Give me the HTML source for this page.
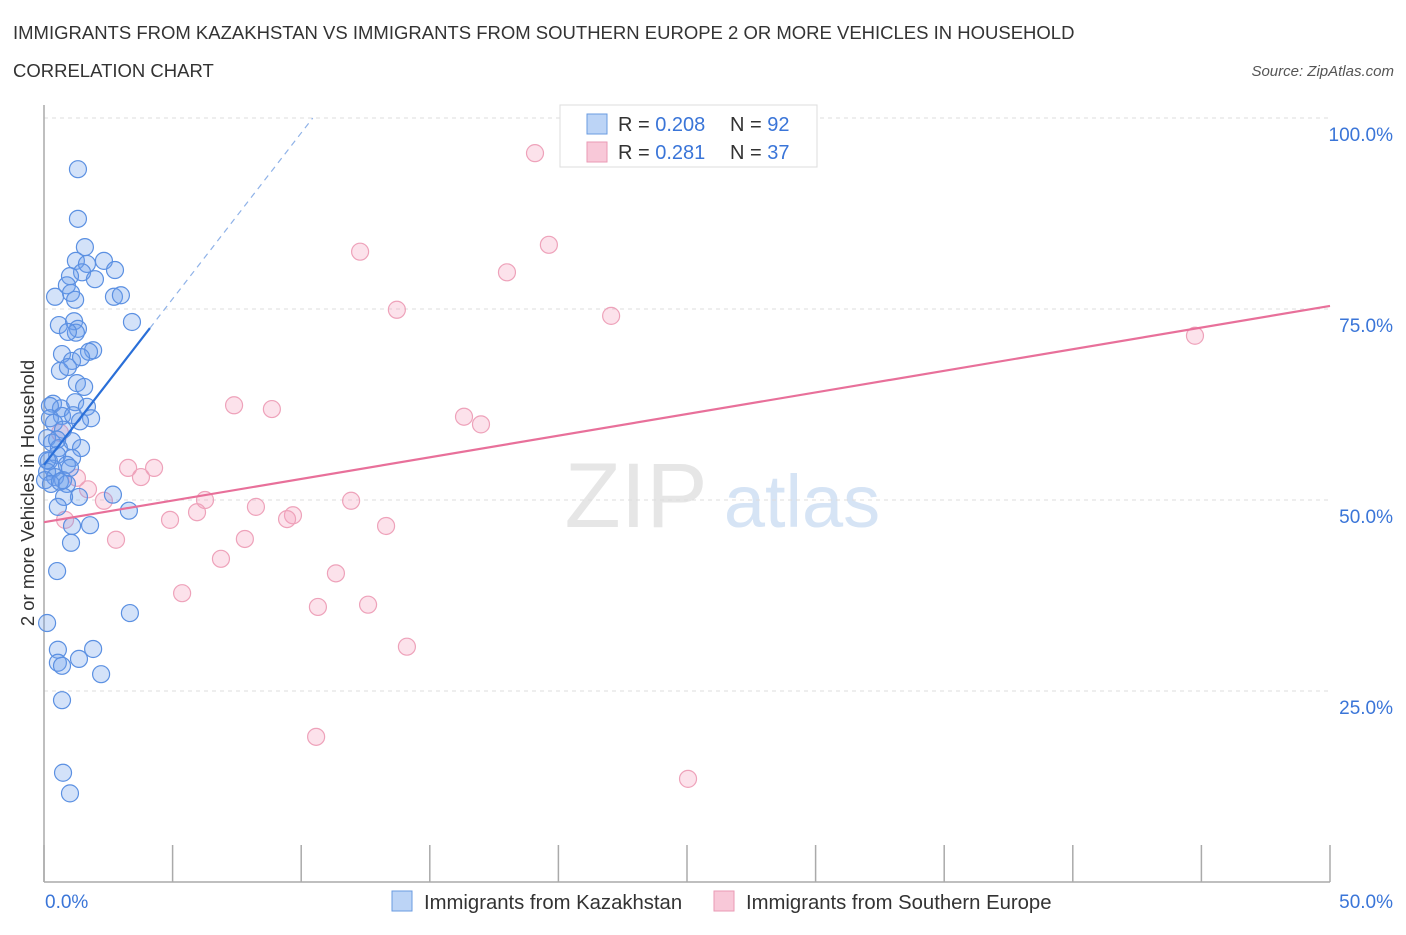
<!DOCTYPE html>
<html><head><meta charset="utf-8"><style>
body{margin:0;background:#fff;font-family:"Liberation Sans",sans-serif;}
svg text{font-family:"Liberation Sans",sans-serif;}
</style></head><body>
<svg id="chart" width="1406" height="930">
<text x="13" y="39" font-size="18.5" fill="#333">IMMIGRANTS FROM KAZAKHSTAN VS IMMIGRANTS FROM SOUTHERN EUROPE 2 OR MORE VEHICLES IN HOUSEHOLD</text>
<text x="13" y="77" font-size="18.5" fill="#333">CORRELATION CHART</text>
<text x="1394" y="76" font-size="15" fill="#555" font-style="italic" text-anchor="end">Source: ZipAtlas.com</text>
<g>
<text x="636" y="527" font-size="92" fill="#e6e6e6" text-anchor="middle" font-family="Liberation Serif">ZIP</text>
<text x="802" y="527" font-size="74" fill="#d6e4f5" text-anchor="middle">atlas</text>
</g>
<g id="grid"></g>
<g id="axes"></g>
<g id="pts"></g>
<g id="lines"></g>
<text transform="translate(34,493) rotate(-90)" font-size="18.5" fill="#333" text-anchor="middle">2 or more Vehicles in Household</text>
<g>
<rect x="560" y="105" width="257" height="62" fill="#fff" stroke="#ddd"/>
<rect x="587" y="114" width="20" height="20" fill="#bcd4f6" stroke="#6a9be0"/>
<rect x="587" y="142" width="20" height="20" fill="#f8c8d8" stroke="#ea9ab4"/>
<text x="618" y="131" font-size="20" fill="#333">R = <tspan fill="#3a75d8">0.208</tspan></text>
<text x="730" y="131" font-size="20" fill="#333">N = <tspan fill="#3a75d8">92</tspan></text>
<text x="618" y="159" font-size="20" fill="#333">R =  <tspan fill="#3a75d8">0.281</tspan></text>
<text x="730" y="159" font-size="20" fill="#333">N = <tspan fill="#3a75d8">37</tspan></text>
</g>
<g>
<rect x="392" y="891" width="20" height="20" fill="#bcd4f6" stroke="#6a9be0"/>
<text x="424" y="909" font-size="20.3" fill="#333">Immigrants from Kazakhstan</text>
<rect x="714" y="891" width="20" height="20" fill="#f8c8d8" stroke="#ea9ab4"/>
<text x="746" y="909" font-size="20.3" fill="#333">Immigrants from Southern Europe</text>
</g>
</svg>
<script>
const blueX=[1.32,1.32,1.59,1.24,1.67,2.33,2.76,1.48,1.01,1.98,0.89,1.05,0.43,1.21,2.72,2.99,3.42,0.58,1.17,1.32,1.24,0.93,1.91,1.75,0.70,1.09,0.62,0.93,1.44,1.28,1.56,0.35,0.66,0.23,1.21,1.67,0.70,1.13,1.83,1.40,0.23,0.39,0.74,0.12,0.31,1.09,0.58,1.44,1.09,0.51,0.19,0.89,0.35,0.12,0.43,0.74,1.01,0.04,0.27,0.62,2.68,0.89,1.36,0.78,0.54,3.30,1.79,1.09,1.05,0.51,3.34,0.12,0.54,1.91,0.54,0.70,1.36,2.22,0.70,0.74,1.01,0.12,0.51];
const blueY=[93.3,86.8,83.1,81.3,80.9,81.3,80.1,79.8,79.3,78.9,78.1,77.1,76.6,76.2,76.6,76.8,73.3,72.9,73.4,72.4,71.9,72.0,69.6,69.4,69.1,68.2,66.9,67.4,68.7,65.3,64.8,62.6,62.0,62.3,62.8,62.2,61.0,61.1,60.7,60.3,60.7,60.1,59.2,58.1,57.5,57.7,56.8,56.8,55.5,55.9,55.1,54.6,54.1,53.7,53.0,52.6,54.2,52.6,52.1,52.4,50.7,52.1,50.4,50.4,49.1,48.6,46.7,46.6,44.4,40.7,35.2,33.9,30.4,30.5,28.7,28.3,29.2,27.2,23.8,14.3,11.6,55.2,57.9];
const pinkX=[19.09,19.63,12.29,18.00,13.72,22.05,44.75,7.39,8.86,16.33,16.99,3.27,4.28,3.77,1.28,1.71,6.26,2.33,11.94,8.24,5.95,9.68,9.45,4.90,13.30,2.80,7.81,6.88,11.35,5.37,10.65,12.60,14.11,10.58,25.04,0.62,0.82];
const pinkY=[95.4,83.4,82.5,79.8,74.9,74.1,71.5,62.4,61.9,60.9,59.9,54.2,54.2,53.0,52.9,51.4,50.0,49.9,49.9,49.1,48.4,48.0,47.5,47.4,46.6,44.8,44.9,42.3,40.4,37.8,36.0,36.3,30.8,19.0,13.5,58.8,47.4];
const yTicks=[25,50,75,100];
const yTickLabels=["25.0%","50.0%","75.0%","100.0%"];
const xTicks=[0,5,10,15,20,25,30,35,40,45,50];
const blueTrend=[54.6,0,4.12,72.5];
const pinkTrend=[47.1,75.4];

const NS="http://www.w3.org/2000/svg";
const X=v=>44+v*25.72, Y=v=>882-v*7.64;
function mk(tag,attrs,parent){const e=document.createElementNS(NS,tag);for(const k in attrs)e.setAttribute(k,attrs[k]);document.getElementById(parent).appendChild(e);return e;}
yTicks.forEach((t,i)=>{
 const l=mk('line',{x1:44,x2:1330,y1:Y(t),y2:Y(t),stroke:'#ddd','stroke-dasharray':'4,4'},'grid');
 
 
 const tx=mk('text',{x:1393,y:Y(t)+23,'font-size':19,fill:'#3a75d8','text-anchor':'end'},'grid');
 tx.textContent=yTickLabels[i];
 
 
});
const ax=mk('line',{x1:44,x2:44,y1:105,y2:882,stroke:'#aaa','stroke-width':1.5},'axes');


const bx=mk('line',{x1:44,x2:1330,y1:882,y2:882,stroke:'#aaa','stroke-width':1.5},'axes');


xTicks.forEach(t=>{
 const l=mk('line',{x1:X(t),x2:X(t),y1:845,y2:882,stroke:'#aaa','stroke-width':1.5},'axes');
 
 
});
const xl0=mk('text',{x:45,y:908,'font-size':19,fill:'#3a75d8'},'axes');xl0.textContent='0.0%';


const xl1=mk('text',{x:1393,y:908,'font-size':19,fill:'#3a75d8','text-anchor':'end'},'axes');xl1.textContent='50.0%';


pinkX.forEach((x,i)=>{
 const c=mk('circle',{cx:X(x),cy:Y(pinkY[i]),r:8.5,fill:'rgba(244,160,188,0.3)',stroke:'#eea2ba','stroke-width':1.2},'pts');
 
 
});
blueX.forEach((x,i)=>{
 const c=mk('circle',{cx:X(x),cy:Y(blueY[i]),r:8.5,fill:'rgba(110,160,235,0.3)',stroke:'#5b90e2','stroke-width':1.2},'pts');
 
 
});
const slope=(blueTrend[3]-blueTrend[0])/blueTrend[2];
const bl=mk('line',{x1:X(0),y1:Y(blueTrend[0]),x2:X(blueTrend[2]),y2:Y(blueTrend[3]),stroke:'#2a6fd8','stroke-width':2.2},'lines');


const xEnd=(100-blueTrend[0])/slope;
const bd=mk('line',{x1:X(blueTrend[2]),y1:Y(blueTrend[3]),x2:X(xEnd),y2:Y(100),stroke:'#8fb2e8','stroke-width':1.2,'stroke-dasharray':'6,5'},'lines');


const pl=mk('line',{x1:X(0),y1:Y(pinkTrend[0]),x2:X(50),y2:Y(pinkTrend[1]),stroke:'#e8709a','stroke-width':2.2},'lines');


</script>
</body></html>
